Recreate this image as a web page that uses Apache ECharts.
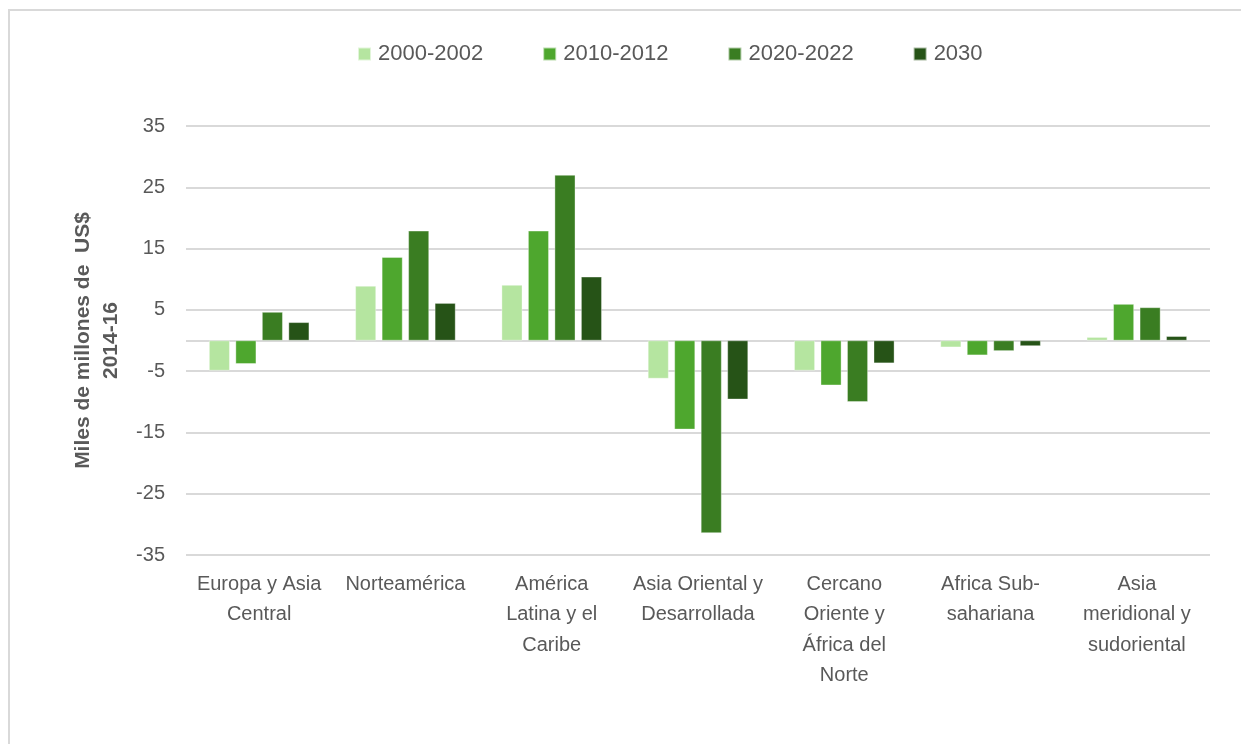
<!DOCTYPE html>
<html>
<head>
<meta charset="utf-8">
<script src="https://cdn.jsdelivr.net/npm/echarts@6/dist/echarts.min.js"></script>
<style>
html,body{margin:0;padding:0;background:#fff;}
#chart{width:1241px;height:744px;}
</style>
</head>
<body>
<div id="chart"></div>
<script>
const categories = [
  "Europa y Asia\nCentral",
  "Norteamérica",
  "América\nLatina y el\nCaribe",
  "Asia Oriental y\nDesarrollada",
  "Cercano\nOriente y\nÁfrica del\nNorte",
  "Africa Sub-\nsahariana",
  "Asia\nmeridional y\nsudoriental"
];
const seriesNames = ["2000-2002", "2010-2012", "2020-2022", "2030"];
const s2000 = [-4.9, 8.9, 9.05, -6.2, -4.9, -1.1, 0.55];
const s2010 = [-3.8, 13.6, 17.9, -14.5, -7.3, -2.4, 5.95];
const s2020 = [4.65, 17.9, 27.0, -31.4, -10.0, -1.7, 5.4];
const s2030 = [2.97, 6.1, 10.4, -9.6, -3.7, -0.9, 0.7];
const yTickLabels = [-35, -25, -15, -5, 5, 15, 25, 35];
const colors = ["#b5e5a0", "#4ea72e", "#3a7d22", "#265317"];

const seriesData = [s2000, s2010, s2020, s2030];
const gridColors = [];
for (let v = -35; v <= 35; v += 5) {
  gridColors.push((yTickLabels.indexOf(v) >= 0 || v === 0) ? "#d9d9d9" : "rgba(0,0,0,0)");
}

const chart = echarts.init(document.getElementById("chart"));
chart.setOption({
  backgroundColor: "#fff",
  animation: false,
  textStyle: { fontFamily: "Liberation Sans, Arial, sans-serif" },
  graphic: [{
    type: "rect",
    shape: { x: 9, y: 10, width: 1250, height: 760 },
    style: { fill: "none", stroke: "#d9d9d9", lineWidth: 2 },
    silent: true
  }],
  legend: {
    data: seriesNames,
    left: 352,
    top: 37,
    itemWidth: 13,
    itemHeight: 13,
    itemGap: 59,
    icon: "rect",
    textStyle: { fontSize: 22, color: "#595959", padding: [0, 0, 0, 2], lineHeight: 24 }
  },
  grid: { left: 186, right: 31, top: 126, bottom: 189, containLabel: false },
  xAxis: {
    type: "category",
    data: categories,
    position: "bottom",
    axisLine: { show: false, onZero: false },
    axisTick: { show: false },
    axisLabel: {
      interval: 0,
      fontSize: 20,
      color: "#595959",
      lineHeight: 30.5,
      margin: 14
    }
  },
  yAxis: {
    type: "value",
    min: -35,
    max: 35,
    interval: 5,
    name: "Miles de millones de  US$\n2014-16",
    nameLocation: "middle",
    nameRotate: 90,
    nameGap: 61,
    nameTextStyle: { fontSize: 21, fontWeight: "bold", color: "#595959", lineHeight: 28 },
    axisLine: { show: false },
    axisTick: { show: false },
    axisLabel: {
      fontSize: 20,
      color: "#595959",
      margin: 21,
      formatter: function (v) { return yTickLabels.indexOf(v) >= 0 ? String(v) : ""; }
    },
    splitLine: { show: true, lineStyle: { color: gridColors, width: 2 } }
  },
  series: seriesNames.map(function (name, i) {
    return {
      name: name,
      type: "bar",
      data: seriesData[i],
      barWidth: 20.7,
      barGap: "28%",
      itemStyle: { color: colors[i], borderColor: "rgba(255,255,255,0.6)", borderWidth: 0.6 }
    };
  })
});
</script>
</body>
</html>
